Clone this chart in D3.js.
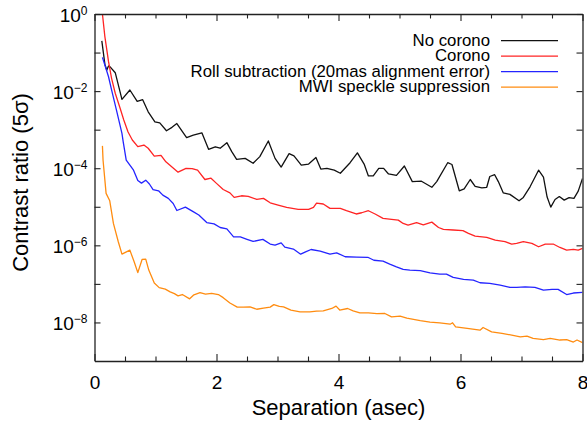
<!DOCTYPE html>
<html>
<head>
<meta charset="utf-8">
<script src="https://cdn.jsdelivr.net/npm/d3@7"></script>
<style>
  html, body { margin: 0; padding: 0; background: #fff; }
  svg { display: block; font-family: "Liberation Sans", Arial, Helvetica, sans-serif; }
</style>
</head>
<body>
<svg id="chart" width="587" height="421"></svg>
<script>
// ---- Data (separation in arcsec, 5-sigma contrast) ----
const noCorono = [[0.12,2.0e-1],[0.17,5.0e-2],[0.20,3.5e-2],[0.23,4.5e-2],[0.26,4.2e-2],[0.34,3.0e-2],[0.45,6.1e-3],[0.58,1.07e-2],[0.70,5.4e-3],[0.79,6.0e-3],[0.88,2.9e-3],[0.99,1.6e-3],[1.07,1.5e-3],[1.18,9.4e-4],[1.27,1.15e-3],[1.35,1.44e-3],[1.51,6.2e-4],[1.62,7.2e-4],[1.76,8.3e-4],[1.87,3.1e-4],[1.98,3.6e-4],[2.06,3.3e-4],[2.17,4.6e-4],[2.25,2.7e-4],[2.33,1.7e-4],[2.47,1.8e-4],[2.60,1.34e-4],[2.71,2.0e-4],[2.85,5.1e-4],[2.96,1.8e-4],[3.06,1.07e-4],[3.19,2.4e-4],[3.27,2.1e-4],[3.39,1.2e-4],[3.51,1.28e-4],[3.63,1.9e-4],[3.71,9.5e-5],[3.81,9.9e-5],[3.93,8.9e-5],[4.03,7.4e-5],[4.19,1.39e-4],[4.31,2.5e-4],[4.42,1.28e-4],[4.49,6.3e-5],[4.57,6.3e-5],[4.66,9.9e-5],[4.74,9.9e-5],[4.82,7.1e-5],[4.95,6.5e-5],[5.08,1.14e-4],[5.21,4.5e-5],[5.36,4.6e-5],[5.53,3.2e-5],[5.61,4.5e-5],[5.79,1.39e-4],[5.86,1.25e-4],[5.98,2.6e-5],[6.06,2.9e-5],[6.16,5.1e-5],[6.24,3.4e-5],[6.35,3.1e-5],[6.43,3.2e-5],[6.48,6.1e-5],[6.56,6.8e-5],[6.62,4.5e-5],[6.70,2.3e-5],[6.81,2.1e-5],[6.96,1.43e-5],[7.03,1.75e-5],[7.14,3.3e-5],[7.28,8.9e-5],[7.36,5.9e-5],[7.42,1.79e-5],[7.48,9.8e-6],[7.55,1.54e-5],[7.62,1.84e-5],[7.70,1.49e-5],[7.78,1.73e-5],[7.86,1.65e-5],[7.93,2.55e-5],[8.00,5.4e-5]];

const corono = [[0.13,1.0],[0.17,2.6e-1],[0.23,5.8e-2],[0.28,2.15e-2],[0.34,8.8e-3],[0.42,3.6e-3],[0.48,1.78e-3],[0.55,8.7e-4],[0.62,5.4e-4],[0.71,3.65e-4],[0.81,4.0e-4],[0.88,3.3e-4],[0.98,2.07e-4],[1.09,2.16e-4],[1.17,1.47e-4],[1.28,1.05e-4],[1.37,7.9e-5],[1.50,9.9e-5],[1.60,9.8e-5],[1.69,8.9e-5],[1.81,5.1e-5],[1.91,5.5e-5],[2.00,4.05e-5],[2.11,2.8e-5],[2.22,2.3e-5],[2.29,1.75e-5],[2.41,1.93e-5],[2.52,1.86e-5],[2.66,1.56e-5],[2.77,1.65e-5],[2.88,1.27e-5],[3.01,1.11e-5],[3.15,9.6e-6],[3.34,8.6e-6],[3.51,8.6e-6],[3.59,9.6e-6],[3.64,1.25e-5],[3.75,1.18e-5],[3.86,9.1e-6],[4.03,9.1e-6],[4.13,7.9e-6],[4.29,6.5e-6],[4.38,7.0e-6],[4.49,7.9e-6],[4.60,6.5e-6],[4.73,5.0e-6],[4.87,4.7e-6],[4.98,4.5e-6],[5.06,3.7e-6],[5.14,3.35e-6],[5.28,3.9e-6],[5.39,3.4e-6],[5.53,4.0e-6],[5.64,2.9e-6],[5.72,2.6e-6],[5.88,2.5e-6],[6.04,2.4e-6],[6.13,2.04e-6],[6.24,1.74e-6],[6.43,1.61e-6],[6.57,1.37e-6],[6.73,1.24e-6],[6.84,1.08e-6],[6.92,1.12e-6],[7.03,1.24e-6],[7.17,1.12e-6],[7.28,9.2e-7],[7.39,1.08e-6],[7.52,1.08e-6],[7.63,8.8e-7],[7.74,7.5e-7],[7.85,7.9e-7],[7.93,7.5e-7],[8.00,8.3e-7]];

const rollSub = [[0.13,7.5e-2],[0.17,4.75e-2],[0.23,2.36e-2],[0.28,1.07e-2],[0.36,3.2e-3],[0.45,8.0e-4],[0.47,4.9e-4],[0.52,1.63e-4],[0.58,1.21e-4],[0.64,8.9e-5],[0.71,4.8e-5],[0.77,4.1e-5],[0.84,4.9e-5],[0.90,3.9e-5],[0.96,2.8e-5],[1.05,2.6e-5],[1.12,2.0e-5],[1.21,1.65e-5],[1.29,1.22e-5],[1.35,8.0e-6],[1.49,9.8e-6],[1.61,7.6e-6],[1.71,6.1e-6],[1.84,3.9e-6],[1.96,3.6e-6],[2.06,2.9e-6],[2.17,2.67e-6],[2.28,1.66e-6],[2.39,1.65e-6],[2.50,1.43e-6],[2.60,1.26e-6],[2.76,1.43e-6],[2.88,1.08e-6],[2.96,1.01e-6],[3.06,1.16e-6],[3.12,9.0e-7],[3.26,8.0e-7],[3.38,5.9e-7],[3.46,6.8e-7],[3.55,7.8e-7],[3.70,7.1e-7],[3.86,5.9e-7],[3.97,6.4e-7],[4.11,5.05e-7],[4.30,4.95e-7],[4.48,4.9e-7],[4.58,4.1e-7],[4.73,3.9e-7],[4.84,3.26e-7],[4.95,2.77e-7],[5.06,2.38e-7],[5.17,2.28e-7],[5.34,2.21e-7],[5.50,1.94e-7],[5.66,1.79e-7],[5.77,1.79e-7],[5.88,1.47e-7],[6.05,1.31e-7],[6.21,1.25e-7],[6.32,1.07e-7],[6.48,1.03e-7],[6.65,9.3e-8],[6.81,8.1e-8],[6.92,8.1e-8],[7.06,8.4e-8],[7.22,8.1e-8],[7.36,6.9e-8],[7.50,7.2e-8],[7.60,7.2e-8],[7.74,5.3e-8],[7.85,5.8e-8],[8.00,6.0e-8]];

const mwi = [[0.13,3.8e-4],[0.14,1.63e-4],[0.19,2.23e-5],[0.25,1.43e-5],[0.31,3.7e-6],[0.39,1.24e-6],[0.45,5.9e-7],[0.58,7.5e-7],[0.65,3.74e-7],[0.71,1.96e-7],[0.78,4.3e-7],[0.84,4.4e-7],[0.89,2.28e-7],[0.98,1.05e-7],[1.06,8.0e-8],[1.16,7.3e-8],[1.24,6.2e-8],[1.31,5.6e-8],[1.37,4.9e-8],[1.44,5.3e-8],[1.56,4.1e-8],[1.63,5.2e-8],[1.73,5.9e-8],[1.82,5.4e-8],[1.92,5.7e-8],[2.03,5.3e-8],[2.11,4.4e-8],[2.22,3.2e-8],[2.34,2.5e-8],[2.44,2.5e-8],[2.55,2.54e-8],[2.66,2.2e-8],[2.77,2.35e-8],[2.88,2.5e-8],[2.94,2.9e-8],[3.03,2.6e-8],[3.10,2.54e-8],[3.22,2.09e-8],[3.37,1.89e-8],[3.53,1.89e-8],[3.64,1.97e-8],[3.75,2.0e-8],[3.89,2.3e-8],[3.96,2.65e-8],[4.02,2.1e-8],[4.15,2.3e-8],[4.24,2.0e-8],[4.35,1.78e-8],[4.49,1.78e-8],[4.63,1.69e-8],[4.76,1.71e-8],[4.87,1.4e-8],[5.01,1.46e-8],[5.12,1.29e-8],[5.23,1.2e-8],[5.34,1.11e-8],[5.50,1.02e-8],[5.66,9.8e-9],[5.83,9.0e-9],[5.87,9.8e-9],[5.92,7.7e-9],[6.11,7.0e-9],[6.32,6.3e-9],[6.37,7.4e-9],[6.51,5.7e-9],[6.68,5.2e-9],[6.84,4.7e-9],[6.98,4.2e-9],[7.09,4.4e-9],[7.19,3.85e-9],[7.36,3.6e-9],[7.47,3.85e-9],[7.63,3.5e-9],[7.74,3.6e-9],[7.85,3.1e-9],[7.91,3.5e-9],[8.00,3.0e-9]];

const seriesNames = ["No corono", "Corono", "Roll subtraction (20mas alignment error)", "MWI speckle suppression"];
const seriesColors = ["#111111", "#ff2424", "#2424ff", "#ff8c10"];
const seriesData = [noCorono, corono, rollSub, mwi];

const xMajorTicks = [0, 2, 4, 6, 8];
const xMinorTicks = [0.5, 1, 1.5, 2.5, 3, 3.5, 4.5, 5, 5.5, 6.5, 7, 7.5];
const yTicks = [1e0, 1e-1, 1e-2, 1e-3, 1e-4, 1e-5, 1e-6, 1e-7, 1e-8];
const yLabelExps = {"1": "0", "0.01": "−2", "0.0001": "−4", "0.000001": "−6", "1e-8": "−8"};

const xTitle = "Separation (asec)";
const yTitle = "Contrast ratio (5σ)";

// ---- Layout ----
const L = 94.5, R = 582.5, T = 14, B = 361;
const svg = d3.select("#chart");
const x = d3.scaleLinear().domain([0, 8]).range([L, R]);
const y = d3.scaleLog().domain([1e-9, 1]).range([B, T]);

svg.append("defs").append("clipPath").attr("id", "plotclip")
  .append("rect").attr("x", L).attr("y", T).attr("width", R - L).attr("height", B - T);

// series
const line = d3.line().x(d => x(d[0])).y(d => y(d[1]));
const plot = svg.append("g").attr("clip-path", "url(#plotclip)");
seriesData.forEach((s, i) => {
  plot.append("path").datum(s)
    .attr("fill", "none")
    .attr("stroke", seriesColors[i])
    .attr("stroke-width", 1.3)
    .attr("stroke-linejoin", "round")
    .attr("d", line);
});

// axes
const axisColor = "#222";
function styleAxis(g) {
  g.selectAll(".domain").attr("stroke", axisColor).attr("stroke-width", 1.3);
  g.selectAll(".tick line").attr("stroke", axisColor).attr("stroke-width", 1.1);
  g.selectAll("text").attr("fill", "#000").attr("font-family", '"Liberation Sans", Arial, Helvetica, sans-serif');
}

// bottom axis with labels
const gxB = svg.append("g").attr("transform", `translate(0,${B})`)
  .call(d3.axisBottom(x).tickValues(xMajorTicks).tickSizeInner(-7).tickSizeOuter(0).tickPadding(15).tickFormat(d3.format("d")));
gxB.selectAll("text").attr("font-size", 19);
styleAxis(gxB);
const gxBm = svg.append("g").attr("transform", `translate(0,${B})`)
  .call(d3.axisBottom(x).tickValues(xMinorTicks).tickSizeInner(-4.5).tickSizeOuter(0).tickFormat(""));
gxBm.select(".domain").remove();
styleAxis(gxBm);

// top axis
const gxT = svg.append("g").attr("transform", `translate(0,${T})`)
  .call(d3.axisTop(x).tickValues(xMajorTicks).tickSizeInner(-7).tickSizeOuter(0).tickFormat(""));
styleAxis(gxT);
const gxTm = svg.append("g").attr("transform", `translate(0,${T})`)
  .call(d3.axisTop(x).tickValues(xMinorTicks).tickSizeInner(-4.5).tickSizeOuter(0).tickFormat(""));
gxTm.select(".domain").remove();
styleAxis(gxTm);

// left axis
const gyL = svg.append("g").attr("transform", `translate(${L},0)`)
  .call(d3.axisLeft(y).tickValues(yTicks).tickSizeInner(-6).tickSizeOuter(0).tickPadding(7).tickFormat(d => yLabelExps[String(d)] !== undefined ? "10" : ""));
styleAxis(gyL);
gyL.selectAll(".tick text").each(function(d) {
  const exp = yLabelExps[String(d)];
  const t = d3.select(this);
  if (exp === undefined) { t.remove(); return; }
  t.text(null).attr("font-size", 19).attr("dy", null).attr("y", 7.5).attr("x", -7);
  t.append("tspan").text("10");
  t.append("tspan").attr("font-size", 12).attr("dy", -7).text(exp);
});

// right axis
const gyR = svg.append("g").attr("transform", `translate(${R},0)`)
  .call(d3.axisRight(y).tickValues(yTicks).tickSizeInner(-6).tickSizeOuter(0).tickFormat(""));
styleAxis(gyR);

// titles
svg.append("text").attr("x", (L + R) / 2).attr("y", 415)
  .attr("text-anchor", "middle").attr("font-size", 22).text(xTitle);
svg.append("text").attr("transform", `translate(28,${182.5}) rotate(-90)`)
  .attr("text-anchor", "middle").attr("font-size", 22).text(yTitle);

// legend
const legY0 = 40.7, legDy = 15.5;
seriesNames.forEach((name, i) => {
  const yy = legY0 + i * legDy;
  svg.append("text").attr("x", 490).attr("y", yy + 5)
    .attr("text-anchor", "end").attr("font-size", 16.8).text(name);
  svg.append("line").attr("x1", 501).attr("x2", 558).attr("y1", yy).attr("y2", yy)
    .attr("stroke", seriesColors[i]).attr("stroke-width", 1.3);
});
</script>
</body>
</html>
